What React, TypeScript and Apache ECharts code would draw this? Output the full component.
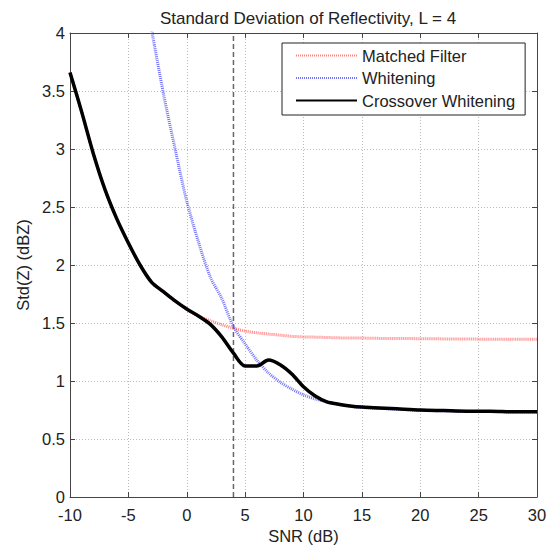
import React, { useEffect, useRef } from "react";
import * as echarts from "echarts";

const snr = [-10, -9, -8, -7, -6, -5, -4, -3, -2, -1, 0, 1, 2, 3, 4, 5, 6, 7, 8, 9, 10, 11, 12, 13, 14, 15, 16, 18, 20, 22, 24, 26, 28, 30];

const crossover = [3.66, 3.32, 2.96, 2.65, 2.4, 2.19, 2.0, 1.85, 1.77, 1.69, 1.62, 1.56, 1.49, 1.38, 1.24, 1.13, 1.13, 1.18, 1.14, 1.06, 0.95, 0.87, 0.82, 0.8, 0.785, 0.775, 0.77, 0.76, 0.75, 0.745, 0.74, 0.74, 0.735, 0.735];

const matched = [3.66, 3.32, 2.96, 2.65, 2.4, 2.19, 2.0, 1.85, 1.77, 1.69, 1.62, 1.56, 1.52, 1.485, 1.455, 1.43, 1.415, 1.405, 1.395, 1.385, 1.38, 1.378, 1.375, 1.372, 1.37, 1.37, 1.368, 1.366, 1.365, 1.363, 1.362, 1.36, 1.36, 1.36];

const whitening = [null, null, null, null, null, null, null, 4.02, 3.48, 3.0, 2.55, 2.2, 1.9, 1.71, 1.47, 1.32, 1.18, 1.07, 0.99, 0.93, 0.88, 0.845, 0.82, 0.8, 0.782, 0.772, 0.767, 0.757, 0.748, 0.743, 0.738, 0.738, 0.733, 0.733];

const thresholdX = [4, 4];
const thresholdY = [0, 4];

const FONT = "Liberation Sans, Arial, sans-serif";
const TXT = "#222";

export default function App() {
  const ref = useRef<HTMLDivElement>(null);
  useEffect(() => {
    if (!ref.current) return;
    const chart = echarts.init(ref.current, undefined, { renderer: "svg" });
    const pair = (ys: (number | null)[]) => snr.map((x, i) => [x, ys[i]]);
    const axisLine = { show: true, onZero: false, lineStyle: { color: "#444", width: 1 } };
    const tick = { show: true, inside: true, length: 5, lineStyle: { color: "#444" } };
    const grid = { show: true, lineStyle: { type: [1, 2], color: "#bbb" } };
    chart.setOption({
      animation: false,
      backgroundColor: "#fff",
      title: {
        text: "Standard Deviation of Reflectivity, L = 4",
        left: 303,
        textAlign: "center",
        top: 5,
        textStyle: { fontFamily: FONT, fontSize: 17, fontWeight: "normal", color: TXT },
      },
      legend: {
        left: 282,
        top: 43,
        orient: "vertical",
        itemWidth: 61,
        itemHeight: 14,
        itemGap: 5.5,
        padding: [4, 10, 6, 13],
        borderColor: "#222",
        borderWidth: 1,
        backgroundColor: "#fff",
        itemStyle: { opacity: 0 },
        textStyle: { fontFamily: FONT, fontSize: 16.5, color: TXT },
        data: ["Matched Filter", "Whitening", "Crossover Whitening"],
      },
      grid: { left: 70, top: 33, width: 467, height: 464, containLabel: false },
      xAxis: [
        {
          type: "value",
          min: -10,
          max: 30,
          interval: 5,
          name: "SNR (dB)",
          nameLocation: "middle",
          nameGap: 27,
          nameTextStyle: { fontFamily: FONT, fontSize: 16.5, color: TXT },
          axisLine,
          axisTick: tick,
          axisLabel: { fontFamily: FONT, fontSize: 16.5, color: TXT, margin: 9 },
          splitLine: grid,
        },
        {
          type: "value",
          position: "top",
          min: -10,
          max: 30,
          interval: 5,
          axisLine,
          axisTick: tick,
          axisLabel: { show: false },
          splitLine: { show: false },
        },
      ],
      yAxis: [
        {
          type: "value",
          min: 0,
          max: 4,
          interval: 0.5,
          name: "Std(Z) (dBZ)",
          nameLocation: "middle",
          nameGap: 37,
          nameTextStyle: { fontFamily: FONT, fontSize: 16.5, color: TXT },
          axisLine,
          axisTick: tick,
          axisLabel: { fontFamily: FONT, fontSize: 16.5, color: TXT, margin: 5 },
          splitLine: grid,
        },
        {
          type: "value",
          position: "right",
          min: 0,
          max: 4,
          interval: 0.5,
          axisLine,
          axisTick: tick,
          axisLabel: { show: false },
          splitLine: { show: false },
        },
      ],
      series: [
        {
          name: "threshold",
          type: "line",
          data: thresholdX.map((x, i) => [x, thresholdY[i]]),
          symbol: "none",
          lineStyle: { color: "#666", width: 1.5, type: [5, 3] },
          silent: true,
        },
        {
          name: "Matched Filter",
          type: "line",
          data: pair(matched),
          symbol: "none",
          smooth: 0.3,
          lineStyle: { color: "#ff6060", width: 3, type: [1, 1], opacity: 0.8 },
          itemStyle: { color: "#ff6060" },
        },
        {
          name: "Whitening",
          type: "line",
          data: pair(whitening),
          symbol: "none",
          smooth: 0.3,
          lineStyle: { color: "#5050ff", width: 3, type: [1, 1], opacity: 0.8 },
          itemStyle: { color: "#5050ff" },
        },
        {
          name: "Crossover Whitening",
          type: "line",
          data: pair(crossover),
          symbol: "none",
          smooth: 0.3,
          lineStyle: { color: "#000", width: 3.5 },
          itemStyle: { color: "#000" },
        },
      ],
    });
    return () => chart.dispose();
  }, []);
  return <div ref={ref} style={{ position: "fixed", left: 0, top: 0, width: 552, height: 550 }} />;
}
